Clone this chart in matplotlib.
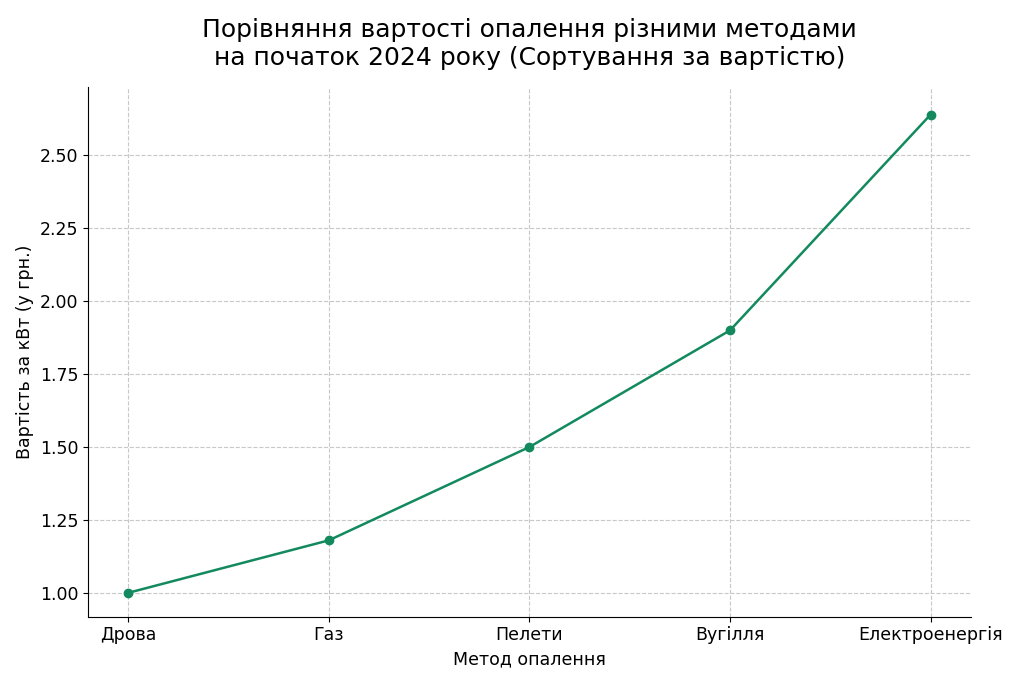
import matplotlib
matplotlib.use("Agg")
import matplotlib.pyplot as plt

methods = ["Дрова", "Газ", "Пелети", "Вугілля", "Електроенергія"]
costs = [1.00, 1.18, 1.50, 1.90, 2.64]

plt.rcParams['font.family'] = ['DejaVu Sans']
fig, ax = plt.subplots(figsize=(10.24, 6.83), dpi=100)
fig.subplots_adjust(left=0.086, right=0.948, top=0.872, bottom=0.097)
ax.plot(methods, costs, marker='o', color='#138a5e', linewidth=1.8, markersize=6)
ax.set_title("Порівняння вартості опалення різними методами\nна початок 2024 року (Сортування за вартістю)", fontsize=18, pad=16)
ax.set_xlabel("Метод опалення", fontsize=12.5)
ax.set_ylabel("Вартість за кВт (у грн.)", fontsize=12.5)
ax.set_ylim(0.918, 2.733)
ax.set_yticks([1.0, 1.25, 1.5, 1.75, 2.0, 2.25, 2.5])
ax.set_yticklabels([f"{v:.2f}" for v in [1.0, 1.25, 1.5, 1.75, 2.0, 2.25, 2.5]])
ax.tick_params(labelsize=12.5)
ax.grid(True, linestyle='--', color='#c8c8c8', linewidth=0.8)
ax.spines['top'].set_visible(False)
ax.spines['right'].set_visible(False)
fig.savefig("out.png", dpi=100)
